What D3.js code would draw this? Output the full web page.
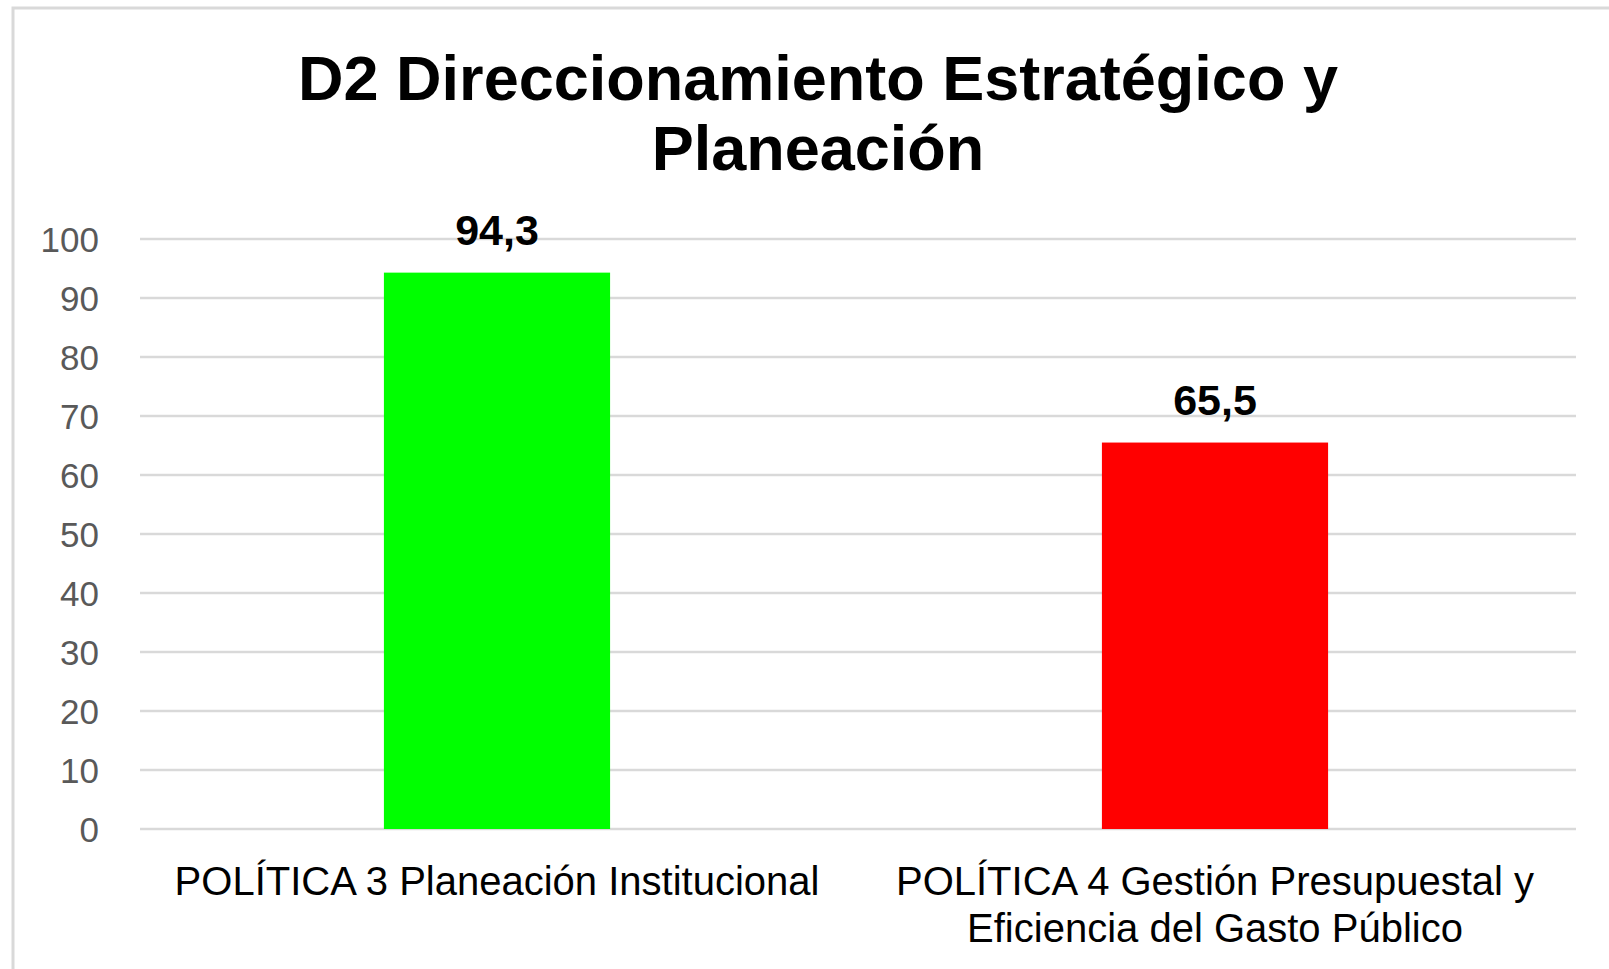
<!DOCTYPE html>
<html>
<head>
<meta charset="utf-8">
<script src="https://cdn.jsdelivr.net/npm/d3@7"></script>
<style>
  body { margin: 0; background: #fff; }
  svg { font-family: "Liberation Sans", Arial, sans-serif; }
</style>
</head>
<body>
<svg id="chart" width="1609" height="969"></svg>
<script>
// data
const categories = ["POLÍTICA 3 Planeación Institucional",
                    "POLÍTICA 4 Gestión Presupuestal y Eficiencia del Gasto Público"]
const values = [94.3, 65.5]
const barColors = ["#00ff00", "#ff0000"]
const yTicks = [0, 10, 20, 30, 40, 50, 60, 70, 80, 90, 100]
const titleLines = ["D2 Direccionamiento Estratégico y", "Planeación"]

const svg = d3.select("#chart")
const plotLeft = 140, plotRight = 1576, plotTop = 239, plotBottom = 829

// chart frame (only left and top edges are in view)
svg.append("rect")
    .attr("x", 13).attr("y", 8)
    .attr("width", 1700).attr("height", 1100)
    .attr("fill", "none").attr("stroke", "#d9d9d9").attr("stroke-width", 3)

let xScale = d3.scaleBand().domain(categories).range([plotLeft, plotRight]).padding(0)
let yScale = d3.scaleLinear().domain([0, 100]).range([plotBottom, plotTop])

// gridlines
svg.append("g").selectAll("line")
    .data(yTicks)
    .enter().append("line")
    .attr("x1", plotLeft).attr("x2", plotRight)
    .attr("y1", d => yScale(d)).attr("y2", d => yScale(d))
    .attr("stroke", "#d9d9d9").attr("stroke-width", 2.5)

// y axis labels
let y_axis = d3.axisLeft(yScale).tickValues(yTicks).tickSize(0).tickPadding(0)
let yg = svg.append("g").attr("transform", `translate(${99},0)`).call(y_axis)
yg.select(".domain").remove()
yg.selectAll("text")
    .attr("fill", "#595959")
    .style("font-size", "35px")
    .attr("font-family", "Liberation Sans, Arial, sans-serif")
    .attr("dy", "0.35em")

// bars
const barFrac = 0.315
svg.append("g").selectAll("rect")
    .data(values)
    .enter().append("rect")
    .attr("x", (d, i) => xScale(categories[i]) + xScale.bandwidth() * (1 - barFrac) / 2 - 2)
    .attr("width", xScale.bandwidth() * barFrac)
    .attr("y", d => yScale(d))
    .attr("height", d => yScale(0) - yScale(d))
    .attr("fill", (d, i) => barColors[i])

// value labels
svg.append("g").selectAll("text")
    .data(values)
    .enter().append("text")
    .attr("x", (d, i) => xScale(categories[i]) + xScale.bandwidth() / 2 - 2)
    .attr("y", d => yScale(d) - 28)
    .attr("text-anchor", "middle")
    .style("font-size", "43px")
    .style("font-weight", "bold")
    .text(d => d3.format(".1f")(d).replace(".", ","))

// category labels, wrapped
function wrap(textSel, width) {
    textSel.each(function () {
        let text = d3.select(this)
        let words = text.text().split(" ")
        let x = text.attr("x")
        text.text(null)
        let line = []
        let tspan = text.append("tspan").attr("x", x).attr("dy", 0)
        words.forEach(w => {
            line.push(w)
            tspan.text(line.join(" "))
            if (tspan.node().getComputedTextLength() > width && line.length > 1) {
                line.pop()
                tspan.text(line.join(" "))
                line = [w]
                tspan = text.append("tspan").attr("x", x).attr("dy", 47).text(w)
            }
        })
    })
}

svg.append("g").selectAll("text")
    .data(categories)
    .enter().append("text")
    .attr("x", d => xScale(d) + xScale.bandwidth() / 2 - 2)
    .attr("y", 895)
    .attr("text-anchor", "middle")
    .style("font-size", "40px")
    .attr("fill", "#000")
    .text(d => d)
    .call(wrap, 700)

// title
svg.append("text")
    .attr("x", 818)
    .attr("y", 100)
    .attr("text-anchor", "middle")
    .style("font-size", "63px")
    .style("font-weight", "bold")
    .selectAll("tspan")
    .data(titleLines)
    .enter().append("tspan")
    .attr("x", 818)
    .attr("dy", (d, i) => i === 0 ? 0 : 70)
    .text(d => d)
</script>
</body>
</html>
